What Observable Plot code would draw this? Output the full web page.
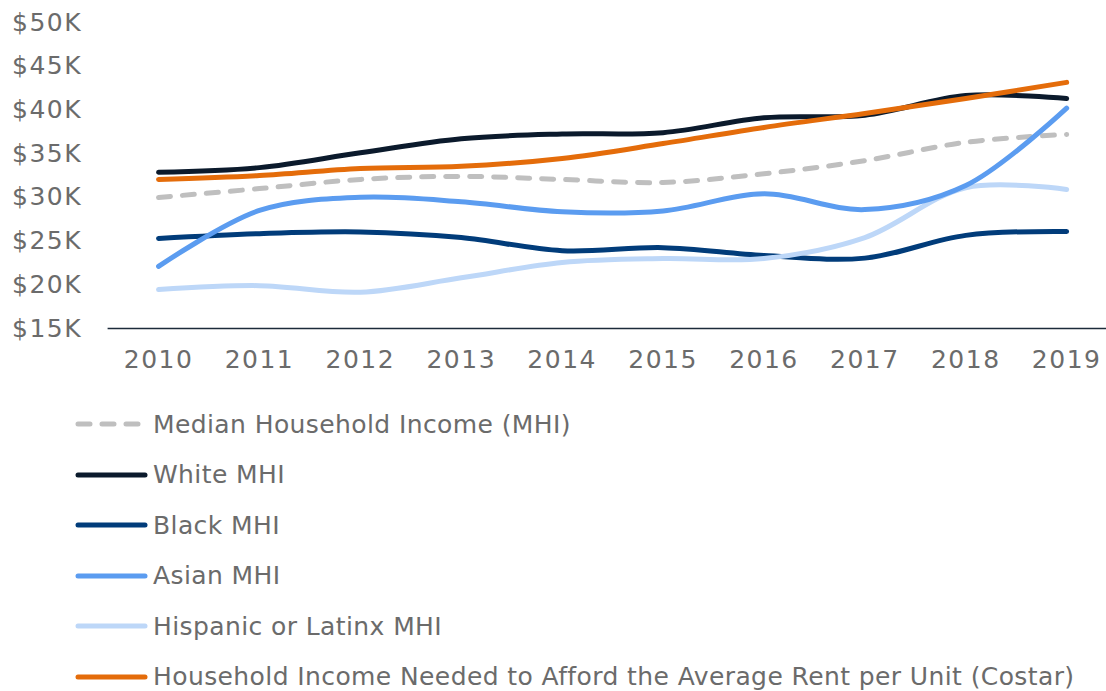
<!DOCTYPE html>
<html>
<head>
<meta charset="utf-8">
<script src="https://cdn.jsdelivr.net/npm/d3@7"></script>
<script src="https://cdn.jsdelivr.net/npm/@observablehq/plot@0.6"></script>
<style>
  html, body { margin: 0; padding: 0; background: #fff; }
  body { width: 1106px; height: 691px; overflow: hidden; font-family: "DejaVu Sans", sans-serif; color: #6b6b6b; }
  #legend { margin: 0; padding: 0; }
  .row { display: flex; align-items: center; height: 50.5px; font-size: 25px; letter-spacing: 0.4px; white-space: nowrap; }
  .row svg { margin-left: 75px; margin-right: 5px; flex: none; }
  #chart svg text { letter-spacing: 1.5px; }
</style>
</head>
<body>
<div id="chart"></div>
<div id="legend"></div>
<script>
const years = [2010, 2011, 2012, 2013, 2014, 2015, 2016, 2017, 2018, 2019];
const seriesNames = [
  "Median Household Income (MHI)",
  "White MHI",
  "Black MHI",
  "Asian MHI",
  "Hispanic or Latinx MHI",
  "Household Income Needed to Afford the Average Rent per Unit (Costar)"
];
const mhi      = [29990, 31000, 32050, 32400, 32050, 31700, 32700, 34200, 36300, 37200];
const white    = [32880, 33400, 35100, 36700, 37250, 37400, 39100, 39400, 41650, 41300];
const black    = [25300, 25850, 26050, 25400, 23900, 24250, 23350, 23050, 25650, 26100];
const asian    = [22100, 28500, 30000, 29500, 28350, 28450, 30400, 28600, 31350, 40200];
const hispanic = [19450, 19900, 19150, 20800, 22550, 23000, 23000, 25400, 31100, 30900];
const rent     = [32050, 32500, 33300, 33550, 34450, 36150, 38000, 39600, 41300, 43150];
const yTicks = [15000, 20000, 25000, 30000, 35000, 40000, 45000, 50000];

const colors = ["#bfbfbf", "#0b1a2c", "#013c7a", "#5b9cf0", "#bdd7f8", "#e46c0a"];
const dashes = ["12,12", null, null, null, null, null];
const values = [mhi, white, black, asian, hispanic, rent];
const drawOrder = [0, 1, 2, 4, 3, 5];

const rows = [];
seriesNames.forEach((name, s) => years.forEach((yr, i) => rows.push({series: name, year: yr, value: values[s][i]})));

const lineMarks = drawOrder.map(s => Plot.line(rows.filter(d => d.series === seriesNames[s]), {
  x: "year", y: "value", stroke: colors[s], strokeWidth: 5,
  strokeDasharray: dashes[s] || undefined, strokeLinecap: "round", curve: "catmull-rom"
}));

const chart = Plot.plot({
  width: 1106,
  height: 399,
  marginLeft: 107.6,
  marginRight: 0,
  marginTop: 22,
  marginBottom: 71,
  style: { fontFamily: "DejaVu Sans, sans-serif", fontSize: "25px", color: "#6b6b6b", background: "#fff", overflow: "visible" },
  x: { type: "linear", domain: [2009.5, 2019.5], range: [107.6, 1116.6], axis: null },
  y: { domain: [15000, 50000], axis: null },
  marks: [
    Plot.axisY(yTicks, { tickSize: 0, tickPadding: 0, dx: -26, fontSize: 25, label: null, tickFormat: d => `$${d / 1000}K`, textAnchor: "end" }),
    Plot.axisX(years, { tickSize: 0, tickPadding: 22, fontSize: 25, label: null, tickFormat: d => String(d) }),
    Plot.ruleY([15000], { stroke: "#1c2b3a", strokeWidth: 1.5 }),
    ...lineMarks
  ]
});
document.getElementById("chart").appendChild(chart);

const legend = document.getElementById("legend");
seriesNames.forEach((name, s) => {
  const row = document.createElement("div");
  row.className = "row";
  const dash = dashes[s] ? `stroke-dasharray="12,12"` : "";
  row.innerHTML = `<svg width="73" height="10"><line x1="3" y1="5" x2="70" y2="5" stroke="${colors[s]}" stroke-width="5" stroke-linecap="round" ${dash}/></svg><span>${name}</span>`;
  legend.appendChild(row);
});
</script>
</body>
</html>
